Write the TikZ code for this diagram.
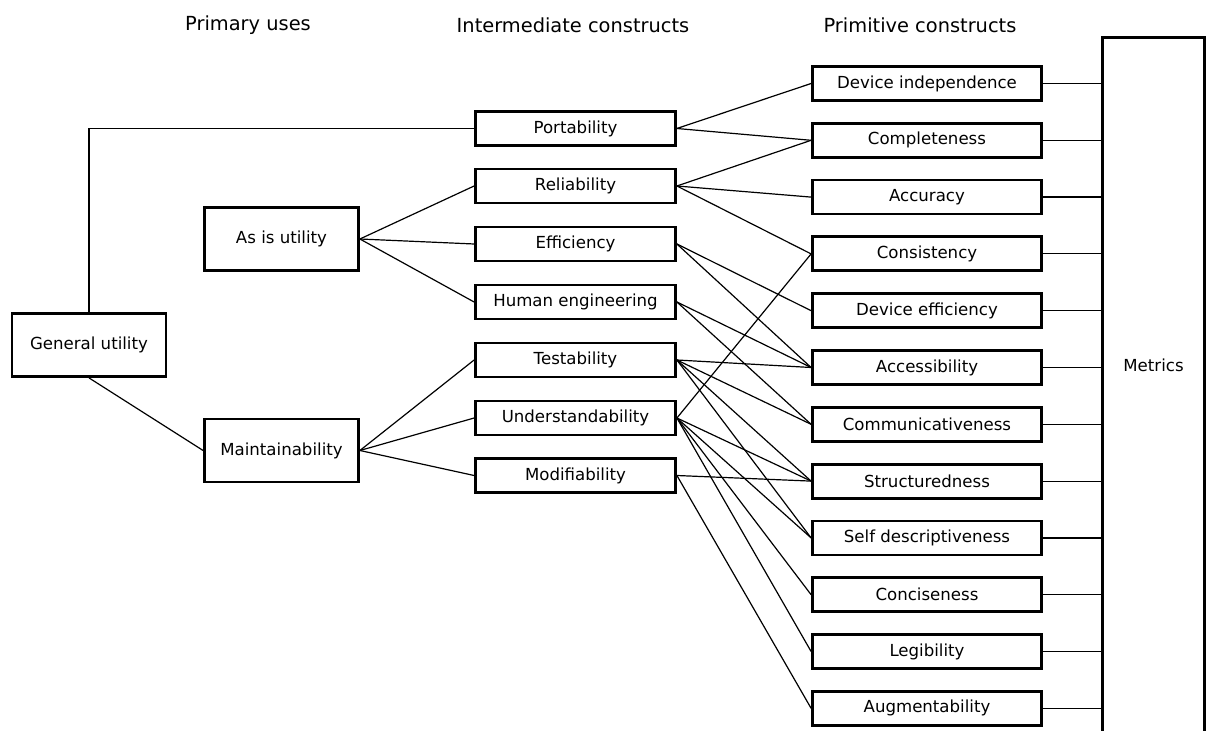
\documentclass[tikz,border=0pt]{standalone}
\usepackage{fontspec}
\setmainfont{DejaVu Sans}
\usetikzlibrary{positioning}

\begin{document}
\begin{tikzpicture}[x=0.5pt, y=-0.5pt,
  every node/.style={font=\fontsize{8.3}{10}\selectfont, inner sep=0pt},
  heading/.style={font=\fontsize{9.7}{12}\selectfont},
  box/.style={draw, line width=1.4pt, minimum height=17pt},
  usebox/.style={box, minimum width=77pt, minimum height=31.5pt},
  midbox/.style={box, minimum width=100pt},
  primbox/.style={box, minimum width=114.5pt},
  link/.style={line width=0.6pt}]

\clip (0,0) rectangle (1208,731);

% column headings
\node (h1)[heading] at (248,25) {Primary uses};
\node (h2)[heading] at (573,25) {Intermediate constructs};
\node (h3)[heading] at (920,25) {Primitive constructs};

% primary uses
\node (gen)[usebox] at (89,345) {General utility};
\node (asis)[usebox] at (281.5,239) {As is utility};
\node (maint)[usebox] at (281.5,450.5) {Maintainability};

% intermediate constructs
\node (port)[midbox] at (575.5,128.5) {Portability};
\node (rel)[midbox] at (575.5,186) {Reliability};
\node (eff)[midbox] at (575.5,244) {Efficiency};
\node (hum)[midbox] at (575.5,302) {Human engineering};
\node (test)[midbox] at (575.5,360) {Testability};
\node (und)[midbox] at (575.5,418) {Understandability};
\node (mod)[midbox] at (575.5,475.5) {Modifiability};

% primitive constructs
\node (devind)[primbox] at (927,83.5) {Device independence};
\node (compl)[primbox] at (927,140.3) {Completeness};
\node (acc)[primbox] at (927,197.1) {Accuracy};
\node (cons)[primbox] at (927,253.9) {Consistency};
\node (deveff)[primbox] at (927,310.7) {Device efficiency};
\node (access)[primbox] at (927,367.5) {Accessibility};
\node (comm)[primbox] at (927,424.3) {Communicativeness};
\node (struct)[primbox] at (927,481.1) {Structuredness};
\node (selfd)[primbox] at (927,537.9) {Self descriptiveness};
\node (conc)[primbox] at (927,594.7) {Conciseness};
\node (leg)[primbox] at (927,651.5) {Legibility};
\node (augm)[primbox] at (927,708.3) {Augmentability};

% metrics column, runs off the bottom
\node (metrics)[box, minimum width=51pt, minimum height=382pt, anchor=north] at (1153.5,36.4) {};
\node (mtext) at (1153.5,365) {Metrics};

\begin{scope}[link]
\draw (gen.north) |- (port.west);
\draw (gen.south) -- (maint.west);

\draw (asis.east) -- (rel.west);
\draw (asis.east) -- (eff.west);
\draw (asis.east) -- (hum.west);
\draw (maint.east) -- (test.west);
\draw (maint.east) -- (und.west);
\draw (maint.east) -- (mod.west);

\draw (port.east) -- (devind.west);
\draw (port.east) -- (compl.west);
\draw (rel.east) -- (compl.west);
\draw (rel.east) -- (acc.west);
\draw (rel.east) -- (cons.west);
\draw (eff.east) -- (deveff.west);
\draw (eff.east) -- (access.west);
\draw (hum.east) -- (access.west);
\draw (hum.east) -- (comm.west);
\draw (test.east) -- (access.west);
\draw (test.east) -- (comm.west);
\draw (test.east) -- (struct.west);
\draw (test.east) -- (selfd.west);
\draw (und.east) -- (cons.west);
\draw (und.east) -- (struct.west);
\draw (und.east) -- (selfd.west);
\draw (und.east) -- (conc.west);
\draw (und.east) -- (leg.west);
\draw (mod.east) -- (struct.west);
\draw (mod.east) -- (augm.west);

\draw (devind.east) -- (devind.east -| metrics.west);
\draw (compl.east) -- (compl.east -| metrics.west);
\draw (acc.east) -- (acc.east -| metrics.west);
\draw (cons.east) -- (cons.east -| metrics.west);
\draw (deveff.east) -- (deveff.east -| metrics.west);
\draw (access.east) -- (access.east -| metrics.west);
\draw (comm.east) -- (comm.east -| metrics.west);
\draw (struct.east) -- (struct.east -| metrics.west);
\draw (selfd.east) -- (selfd.east -| metrics.west);
\draw (conc.east) -- (conc.east -| metrics.west);
\draw (leg.east) -- (leg.east -| metrics.west);
\draw (augm.east) -- (augm.east -| metrics.west);
\end{scope}
\end{tikzpicture}
\end{document}
